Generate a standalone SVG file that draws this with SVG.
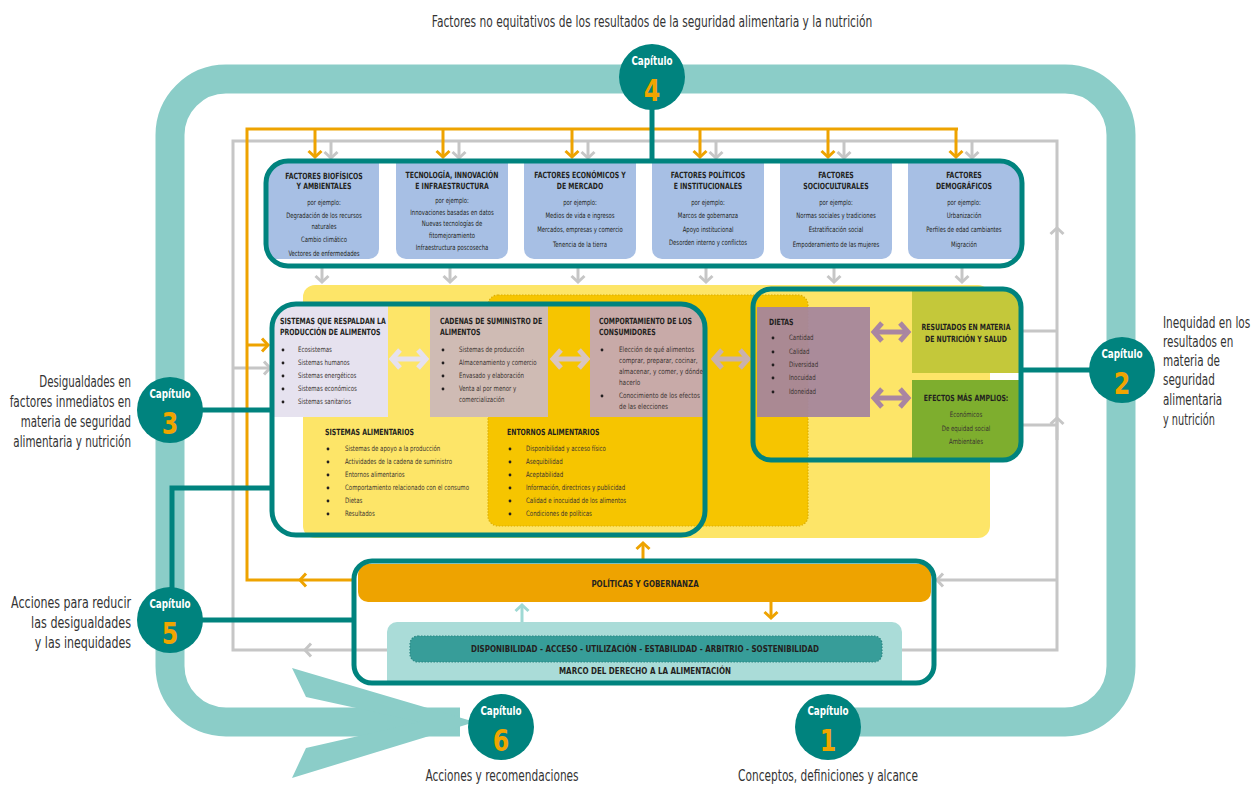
<svg xmlns="http://www.w3.org/2000/svg" width="1253" height="785" viewBox="0 0 1253 785">
<defs>
<style>
.t{font-family:"Liberation Sans Narrow","DejaVu Sans Condensed","Liberation Sans",sans-serif;fill:#231f20}
.lbl{font-size:15.5px;fill:#333}
.ft{font-size:8.6px;font-weight:bold;text-anchor:middle}
.fb{font-size:7.4px;text-anchor:middle}
.pt{font-size:8.6px;font-weight:bold}
.pb{font-size:7.4px;fill:#3a3330}
.cap{font-size:11.5px;font-weight:bold;fill:#fff;text-anchor:middle}
.num{font-size:31px;font-weight:bold;fill:#f0a500;text-anchor:middle}
.gl{stroke:#c6c6c6;stroke-width:3;fill:none}
.ol{stroke:#eea300;stroke-width:3;fill:none}
.tl{stroke:#00837e;stroke-width:5;fill:none}
.circ{fill:#00837e}
.bul{fill:#231f20}
</style>
<marker id="aO" viewBox="-10 -10 20 20" markerWidth="20" markerHeight="20" markerUnits="userSpaceOnUse" orient="auto"><path d="M-6,-6.5 L0,0 L-6,6.5" fill="none" stroke="#eea300" stroke-width="3"/></marker>
<marker id="aG" viewBox="-10 -10 20 20" markerWidth="20" markerHeight="20" markerUnits="userSpaceOnUse" orient="auto"><path d="M-6,-6.5 L0,0 L-6,6.5" fill="none" stroke="#c6c6c6" stroke-width="3"/></marker>
<marker id="aT" viewBox="-10 -10 20 20" markerWidth="20" markerHeight="20" markerUnits="userSpaceOnUse" orient="auto"><path d="M-6,-6.5 L0,0 L-6,6.5" fill="none" stroke="#9fd9d4" stroke-width="3"/></marker>
<marker id="dL" viewBox="-14 -14 28 28" markerWidth="28" markerHeight="28" markerUnits="userSpaceOnUse" orient="auto-start-reverse"><path d="M-8,-9 L0,0 L-8,9" fill="none" stroke="#e6e1ee" stroke-width="5"/></marker>
<marker id="dC" viewBox="-14 -14 28 28" markerWidth="28" markerHeight="28" markerUnits="userSpaceOnUse" orient="auto-start-reverse"><path d="M-8,-9 L0,0 L-8,9" fill="none" stroke="#d9c5c0" stroke-width="5"/></marker>
<marker id="dD" viewBox="-14 -14 28 28" markerWidth="28" markerHeight="28" markerUnits="userSpaceOnUse" orient="auto-start-reverse"><path d="M-8,-9 L0,0 L-8,9" fill="none" stroke="#c9b1ae" stroke-width="5"/></marker>
<marker id="dP" viewBox="-14 -14 28 28" markerWidth="28" markerHeight="28" markerUnits="userSpaceOnUse" orient="auto-start-reverse"><path d="M-8,-9 L0,0 L-8,9" fill="none" stroke="#a985a1" stroke-width="5"/></marker>
<clipPath id="cF"><rect x="266" y="161" width="756" height="105" rx="22"/></clipPath>
<clipPath id="c1"><rect x="272" y="304" width="433" height="231" rx="24"/></clipPath>
<clipPath id="c2"><rect x="753" y="289" width="268" height="171" rx="18"/></clipPath>
</defs>
<rect width="1253" height="785" fill="#fff"/>

<g id="loop">
<path d="M828,722 L1065,722 A56,56 0 0 0 1121,666 L1121,135 A56,56 0 0 0 1065,79 L226,79 A56,56 0 0 0 170,135 L170,666 A56,56 0 0 0 226,722 L460,722" fill="none" stroke="#8bcdc8" stroke-width="29"/>
<polygon points="292,668 475,722 292,778 306,748 420,722 306,697" fill="#8bcdc8"/>
</g>

<text class="t lbl" x="0" y="27" text-anchor="middle" transform="matrix(0.74,0,0,1,652,0)" textLength="595" lengthAdjust="spacingAndGlyphs">Factores no equitativos de los resultados de la seguridad alimentaria y la nutrición</text>

<g id="bg">
<rect x="303" y="285" width="687" height="253" rx="12" fill="#fde568"/>
<rect x="488" y="295" width="320" height="231" rx="10" fill="#f6c500" stroke="#dcae00" stroke-width="1.2" stroke-dasharray="1.5 1.5"/>
</g>

<g id="connectors">
<path class="gl" d="M305,650 H233 V141 H1057 V650 H890"/>
<path class="gl" d="M890,650 H882" marker-end="url(#aG)"/>
<path class="gl" d="M1057,580 H937" marker-end="url(#aG)"/>
<path class="gl" d="M410,650 H305" marker-end="url(#aG)"/>
<path class="gl" d="M1057,250 V228" marker-end="url(#aG)"/>
<path class="gl" d="M1057,440 V418" marker-end="url(#aG)"/>
<path class="gl" d="M1021,331 H1057"/>
<path class="gl" d="M1021,425 H1057"/>
<path class="gl" d="M233,368 H270" marker-end="url(#aG)"/>
<path class="gl" d="M331,141 V158" marker-end="url(#aG)"/>
<path class="gl" d="M459,141 V158" marker-end="url(#aG)"/>
<path class="gl" d="M588,141 V158" marker-end="url(#aG)"/>
<path class="gl" d="M716,141 V158" marker-end="url(#aG)"/>
<path class="gl" d="M844,141 V158" marker-end="url(#aG)"/>
<path class="gl" d="M972,141 V158" marker-end="url(#aG)"/>
<path class="gl" d="M322,268 V282" marker-end="url(#aG)"/>
<path class="gl" d="M450,268 V282" marker-end="url(#aG)"/>
<path class="gl" d="M578,268 V282" marker-end="url(#aG)"/>
<path class="gl" d="M706,268 V282" marker-end="url(#aG)"/>
<path class="gl" d="M834,268 V282" marker-end="url(#aG)"/>
<path class="gl" d="M962,268 V282" marker-end="url(#aG)"/>
<path class="ol" d="M356,580 H300" marker-end="url(#aO)"/>
<path class="ol" d="M300,580 H247 V129 H958"/>
<path class="ol" d="M247,345 H268" marker-end="url(#aO)"/>
<path class="ol" d="M315,129 V157" marker-end="url(#aO)"/>
<path class="ol" d="M443,129 V157" marker-end="url(#aO)"/>
<path class="ol" d="M572,129 V157" marker-end="url(#aO)"/>
<path class="ol" d="M700,129 V157" marker-end="url(#aO)"/>
<path class="ol" d="M828,129 V157" marker-end="url(#aO)"/>
<path class="ol" d="M956,129 V157" marker-end="url(#aO)"/>
<path class="ol" d="M643,560 V543" marker-end="url(#aO)"/>
<path class="ol" d="M771,602 V618" marker-end="url(#aO)"/>
<path d="M522,622 V605" fill="none" stroke="#9fd9d4" stroke-width="3" marker-end="url(#aT)"/>
<path class="tl" d="M652,108 V161"/>
<path class="tl" d="M200,410 H272"/>
<path class="tl" d="M200,620 H354"/>
<path class="tl" d="M172,590 V488 H272"/>
<path class="tl" d="M1021,370 H1090"/>
<path d="M392,359 H426" stroke="#e6e1ee" stroke-width="5" marker-start="url(#dL)" marker-end="url(#dL)"/>
<path d="M553,359 H587" stroke="#d9c5c0" stroke-width="5" marker-start="url(#dC)" marker-end="url(#dC)"/>
<path d="M714,359 H748" stroke="#c9b1ae" stroke-width="5" marker-start="url(#dD)" marker-end="url(#dD)"/>
<path d="M874,332 H908" stroke="#a985a1" stroke-width="5" marker-start="url(#dP)" marker-end="url(#dP)"/>
<path d="M874,398 H908" stroke="#a985a1" stroke-width="5" marker-start="url(#dP)" marker-end="url(#dP)"/>
</g>

<g id="factores">
<g clip-path="url(#cF)" fill="#a7bfe4">
<path d="M250,150 H379 V249 A10,10 0 0 1 369,259 H260 Z"/>
<path d="M396,150 H508 V249 A10,10 0 0 1 498,259 H406 A10,10 0 0 1 396,249 Z"/>
<path d="M524,150 H636 V249 A10,10 0 0 1 626,259 H534 A10,10 0 0 1 524,249 Z"/>
<path d="M652,150 H764 V249 A10,10 0 0 1 754,259 H662 A10,10 0 0 1 652,249 Z"/>
<path d="M780,150 H892 V249 A10,10 0 0 1 882,259 H790 A10,10 0 0 1 780,249 Z"/>
<path d="M908,150 H1030 V259 H918 A10,10 0 0 1 908,249 Z"/>
</g>
<rect x="266" y="161" width="756" height="105" rx="22" class="tl"/>
</g>
<g id="f1">
<text class="t ft" x="0" y="179" transform="matrix(0.8,0,0,1,324,0)">FACTORES BIOFÍSICOS</text>
<text class="t ft" x="0" y="189" transform="matrix(0.8,0,0,1,324,0)">Y AMBIENTALES</text>
<text class="t fb" x="0" y="205" transform="matrix(0.8,0,0,1,324,0)">por ejemplo:</text>
<text class="t fb" x="0" y="218" transform="matrix(0.8,0,0,1,324,0)">Degradación de los recursos</text>
<text class="t fb" x="0" y="229" transform="matrix(0.8,0,0,1,324,0)">naturales</text>
<text class="t fb" x="0" y="242" transform="matrix(0.8,0,0,1,324,0)">Cambio climático</text>
<text class="t fb" x="0" y="256" transform="matrix(0.8,0,0,1,324,0)">Vectores de enfermedades</text>
</g>
<g id="f2">
<text class="t ft" x="0" y="178" transform="matrix(0.8,0,0,1,452,0)">TECNOLOGÍA, INNOVACIÓN</text>
<text class="t ft" x="0" y="189" transform="matrix(0.8,0,0,1,452,0)">E INFRAESTRUCTURA</text>
<text class="t fb" x="0" y="203" transform="matrix(0.8,0,0,1,452,0)">por ejemplo:</text>
<text class="t fb" x="0" y="215" transform="matrix(0.8,0,0,1,452,0)">Innovaciones basadas en datos</text>
<text class="t fb" x="0" y="226" transform="matrix(0.8,0,0,1,452,0)">Nuevas tecnologías de</text>
<text class="t fb" x="0" y="238" transform="matrix(0.8,0,0,1,452,0)">fitomejoramiento</text>
<text class="t fb" x="0" y="250" transform="matrix(0.8,0,0,1,452,0)">Infraestructura poscosecha</text>
</g>
<g id="f3">
<text class="t ft" x="0" y="178" transform="matrix(0.8,0,0,1,580,0)">FACTORES ECONÓMICOS Y</text>
<text class="t ft" x="0" y="189" transform="matrix(0.8,0,0,1,580,0)">DE MERCADO</text>
<text class="t fb" x="0" y="205" transform="matrix(0.8,0,0,1,580,0)">por ejemplo:</text>
<text class="t fb" x="0" y="218" transform="matrix(0.8,0,0,1,580,0)">Medios de vida  e ingresos</text>
<text class="t fb" x="0" y="232" transform="matrix(0.8,0,0,1,580,0)">Mercados, empresas y comercio</text>
<text class="t fb" x="0" y="247" transform="matrix(0.8,0,0,1,580,0)">Tenencia de la tierra</text>
</g>
<g id="f4">
<text class="t ft" x="0" y="178" transform="matrix(0.8,0,0,1,708,0)">FACTORES POLÍTICOS</text>
<text class="t ft" x="0" y="189" transform="matrix(0.8,0,0,1,708,0)">E INSTITUCIONALES</text>
<text class="t fb" x="0" y="205" transform="matrix(0.8,0,0,1,708,0)">por ejemplo:</text>
<text class="t fb" x="0" y="218" transform="matrix(0.8,0,0,1,708,0)">Marcos de gobernanza</text>
<text class="t fb" x="0" y="232" transform="matrix(0.8,0,0,1,708,0)">Apoyo institucional</text>
<text class="t fb" x="0" y="245" transform="matrix(0.8,0,0,1,708,0)">Desorden interno y conflictos</text>
</g>
<g id="f5">
<text class="t ft" x="0" y="178" transform="matrix(0.8,0,0,1,836,0)">FACTORES</text>
<text class="t ft" x="0" y="189" transform="matrix(0.8,0,0,1,836,0)">SOCIOCULTURALES</text>
<text class="t fb" x="0" y="205" transform="matrix(0.8,0,0,1,836,0)">por ejemplo:</text>
<text class="t fb" x="0" y="218" transform="matrix(0.8,0,0,1,836,0)">Normas sociales y tradiciones</text>
<text class="t fb" x="0" y="232" transform="matrix(0.8,0,0,1,836,0)">Estratificación social</text>
<text class="t fb" x="0" y="247" transform="matrix(0.8,0,0,1,836,0)">Empoderamiento de las mujeres</text>
</g>
<g id="f6">
<text class="t ft" x="0" y="178" transform="matrix(0.8,0,0,1,964,0)">FACTORES</text>
<text class="t ft" x="0" y="189" transform="matrix(0.8,0,0,1,964,0)">DEMOGRÁFICOS</text>
<text class="t fb" x="0" y="205" transform="matrix(0.8,0,0,1,964,0)">por ejemplo:</text>
<text class="t fb" x="0" y="218" transform="matrix(0.8,0,0,1,964,0)">Urbanización</text>
<text class="t fb" x="0" y="232" transform="matrix(0.8,0,0,1,964,0)">Perfiles de edad cambiantes</text>
<text class="t fb" x="0" y="247" transform="matrix(0.8,0,0,1,964,0)">Migración</text>
</g>

<g id="sistemas">
<g clip-path="url(#c1)">
<rect x="270" y="300" width="118" height="117" fill="#e6e2ef"/>
<rect x="430" y="300" width="118" height="117" fill="#cfbbb4"/>
<rect x="590" y="300" width="120" height="117" fill="#c8aaa8"/>
</g>
<rect x="272" y="304" width="433" height="231" rx="24" class="tl"/>
</g>
<g id="respaldan">
<text class="t pt" x="0" y="324" transform="matrix(0.8,0,0,1,280,0)">SISTEMAS QUE RESPALDAN LA</text>
<text class="t pt" x="0" y="335" transform="matrix(0.8,0,0,1,280,0)">PRODUCCIÓN DE ALIMENTOS</text>
<g class="bul"><circle cx="283" cy="350" r="1.4"/><circle cx="283" cy="363" r="1.4"/><circle cx="283" cy="376" r="1.4"/><circle cx="283" cy="389" r="1.4"/><circle cx="283" cy="402" r="1.4"/></g>
<text class="t pb" x="0" y="352" transform="matrix(0.82,0,0,1,298,0)">Ecosistemas</text>
<text class="t pb" x="0" y="365" transform="matrix(0.82,0,0,1,298,0)">Sistemas humanos</text>
<text class="t pb" x="0" y="378" transform="matrix(0.82,0,0,1,298,0)">Sistemas energéticos</text>
<text class="t pb" x="0" y="391" transform="matrix(0.82,0,0,1,298,0)">Sistemas económicos</text>
<text class="t pb" x="0" y="404" transform="matrix(0.82,0,0,1,298,0)">Sistemas sanitarios</text>
</g>
<g id="cadenas">
<text class="t pt" x="0" y="324" transform="matrix(0.8,0,0,1,440,0)">CADENAS DE SUMINISTRO DE</text>
<text class="t pt" x="0" y="335" transform="matrix(0.8,0,0,1,440,0)">ALIMENTOS</text>
<g class="bul"><circle cx="443" cy="350" r="1.4"/><circle cx="443" cy="363" r="1.4"/><circle cx="443" cy="376" r="1.4"/><circle cx="443" cy="389" r="1.4"/></g>
<text class="t pb" x="0" y="352" transform="matrix(0.82,0,0,1,459,0)">Sistemas de producción</text>
<text class="t pb" x="0" y="365" transform="matrix(0.82,0,0,1,459,0)">Almacenamiento y comercio</text>
<text class="t pb" x="0" y="378" transform="matrix(0.82,0,0,1,459,0)">Envasado y elaboración</text>
<text class="t pb" x="0" y="391" transform="matrix(0.82,0,0,1,459,0)">Venta al por menor y</text>
<text class="t pb" x="0" y="402" transform="matrix(0.82,0,0,1,459,0)">comercialización</text>
</g>
<g id="comportamiento">
<text class="t pt" x="0" y="324" transform="matrix(0.8,0,0,1,599,0)">COMPORTAMIENTO DE LOS</text>
<text class="t pt" x="0" y="335" transform="matrix(0.8,0,0,1,599,0)">CONSUMIDORES</text>
<g class="bul"><circle cx="602" cy="350" r="1.4"/><circle cx="602" cy="396" r="1.4"/></g>
<text class="t pb" x="0" y="352" transform="matrix(0.86,0,0,1,619,0)">Elección de qué alimentos</text>
<text class="t pb" x="0" y="363" transform="matrix(0.86,0,0,1,619,0)">comprar, preparar, cocinar,</text>
<text class="t pb" x="0" y="374" transform="matrix(0.86,0,0,1,619,0)">almacenar, y  comer, y dónde</text>
<text class="t pb" x="0" y="385" transform="matrix(0.86,0,0,1,619,0)">hacerlo</text>
<text class="t pb" x="0" y="398" transform="matrix(0.86,0,0,1,619,0)">Conocimiento de los efectos</text>
<text class="t pb" x="0" y="409" transform="matrix(0.86,0,0,1,619,0)">de las elecciones</text>
</g>
<g id="sistalim">
<text class="t pt" x="0" y="435" transform="matrix(0.8,0,0,1,325,0)">SISTEMAS ALIMENTARIOS</text>
<g class="bul"><circle cx="328" cy="449" r="1.4"/><circle cx="328" cy="462" r="1.4"/><circle cx="328" cy="475" r="1.4"/><circle cx="328" cy="488" r="1.4"/><circle cx="328" cy="501" r="1.4"/><circle cx="328" cy="514" r="1.4"/></g>
<text class="t pb" x="0" y="451" transform="matrix(0.82,0,0,1,345,0)">Sistemas de apoyo a la producción</text>
<text class="t pb" x="0" y="464" transform="matrix(0.82,0,0,1,345,0)">Actividades de la cadena de suministro</text>
<text class="t pb" x="0" y="477" transform="matrix(0.82,0,0,1,345,0)">Entornos alimentarios</text>
<text class="t pb" x="0" y="490" transform="matrix(0.82,0,0,1,345,0)">Comportamiento relacionado con el consumo</text>
<text class="t pb" x="0" y="503" transform="matrix(0.82,0,0,1,345,0)">Dietas</text>
<text class="t pb" x="0" y="516" transform="matrix(0.82,0,0,1,345,0)">Resultados</text>
</g>
<g id="entornos">
<text class="t pt" x="0" y="435" transform="matrix(0.8,0,0,1,507,0)">ENTORNOS ALIMENTARIOS</text>
<g class="bul"><circle cx="510" cy="449" r="1.4"/><circle cx="510" cy="462" r="1.4"/><circle cx="510" cy="475" r="1.4"/><circle cx="510" cy="488" r="1.4"/><circle cx="510" cy="501" r="1.4"/><circle cx="510" cy="514" r="1.4"/></g>
<text class="t pb" x="0" y="451" transform="matrix(0.82,0,0,1,526,0)">Disponibilidad y acceso físico</text>
<text class="t pb" x="0" y="464" transform="matrix(0.82,0,0,1,526,0)">Asequibilidad</text>
<text class="t pb" x="0" y="477" transform="matrix(0.82,0,0,1,526,0)">Aceptabilidad</text>
<text class="t pb" x="0" y="490" transform="matrix(0.82,0,0,1,526,0)">Información, directrices y publicidad</text>
<text class="t pb" x="0" y="503" transform="matrix(0.82,0,0,1,526,0)">Calidad e inocuidad de los alimentos</text>
<text class="t pb" x="0" y="516" transform="matrix(0.82,0,0,1,526,0)">Condiciones de políticas</text>
</g>

<g id="resultados">
<g clip-path="url(#c2)">
<rect x="757" y="307" width="113" height="110" fill="#a4849e" opacity="0.93"/>
<rect x="912" y="285" width="115" height="88" fill="#c4c83a"/>
<rect x="912" y="380" width="115" height="85" fill="#7eae2e"/>
</g>
<rect x="753" y="289" width="268" height="171" rx="18" class="tl"/>
<text class="t pt" x="0" y="325" transform="matrix(0.8,0,0,1,769,0)">DIETAS</text>
<g class="bul"><circle cx="773" cy="338" r="1.4"/><circle cx="773" cy="352" r="1.4"/><circle cx="773" cy="365" r="1.4"/><circle cx="773" cy="378" r="1.4"/><circle cx="773" cy="392" r="1.4"/></g>
<text class="t pb" x="0" y="340" transform="matrix(0.82,0,0,1,789,0)">Cantidad</text>
<text class="t pb" x="0" y="354" transform="matrix(0.82,0,0,1,789,0)">Calidad</text>
<text class="t pb" x="0" y="367" transform="matrix(0.82,0,0,1,789,0)">Diversidad</text>
<text class="t pb" x="0" y="380" transform="matrix(0.82,0,0,1,789,0)">Inocuidad</text>
<text class="t pb" x="0" y="394" transform="matrix(0.82,0,0,1,789,0)">Idoneidad</text>
<text class="t pt" x="0" y="330" text-anchor="middle" transform="matrix(0.8,0,0,1,966,0)">RESULTADOS EN MATERIA</text>
<text class="t pt" x="0" y="342" text-anchor="middle" transform="matrix(0.8,0,0,1,966,0)">DE NUTRICIÓN  Y SALUD</text>
<text class="t pt" x="0" y="401" text-anchor="middle" transform="matrix(0.8,0,0,1,966,0)">EFECTOS MÁS AMPLIOS:</text>
<text class="t pb" x="0" y="417" text-anchor="middle" transform="matrix(0.82,0,0,1,966,0)">Económicos</text>
<text class="t pb" x="0" y="431" text-anchor="middle" transform="matrix(0.82,0,0,1,966,0)">De equidad social</text>
<text class="t pb" x="0" y="444" text-anchor="middle" transform="matrix(0.82,0,0,1,966,0)">Ambientales</text>
</g>

<g id="politicas">
<rect x="358" y="564" width="573" height="38" rx="10" fill="#eea300"/>
<path d="M387,683 V632 A10,10 0 0 1 397,622 H892 A10,10 0 0 1 902,632 V683 Z" fill="#aadcd8"/>
<rect x="410" y="636" width="472" height="26" rx="8" fill="#379d99" stroke="#2b8985" stroke-width="1.2" stroke-dasharray="1.5 1.5"/>
<rect x="354" y="561" width="580" height="122" rx="18" class="tl"/>
<text class="t" x="0" y="587" text-anchor="middle" font-size="9.4" font-weight="bold" transform="matrix(0.8,0,0,1,645,0)" textLength="134" lengthAdjust="spacingAndGlyphs">POLÍTICAS Y GOBERNANZA</text>
<text class="t" x="0" y="652" text-anchor="middle" font-size="9" font-weight="bold" transform="matrix(0.8,0,0,1,645,0)" textLength="435" lengthAdjust="spacingAndGlyphs">DISPONIBILIDAD - ACCESO - UTILIZACIÓN - ESTABILIDAD - ARBITRIO - SOSTENIBILIDAD</text>
<text class="t" x="0" y="674" text-anchor="middle" font-size="9" font-weight="bold" transform="matrix(0.8,0,0,1,645,0)" textLength="215" lengthAdjust="spacingAndGlyphs">MARCO DEL DERECHO A LA ALIMENTACIÓN</text>
</g>

<g id="cap4"><circle class="circ" cx="652" cy="77" r="33"/><text class="t cap" x="0" y="65" transform="matrix(0.85,0,0,1,652,0)">Capítulo</text><text class="t num" x="0" y="101" transform="matrix(0.85,0,0,1,652,0)">4</text></g>
<g id="cap2"><circle class="circ" cx="1122" cy="370" r="33"/><text class="t cap" x="0" y="358" transform="matrix(0.85,0,0,1,1122,0)">Capítulo</text><text class="t num" x="0" y="394" transform="matrix(0.85,0,0,1,1122,0)">2</text></g>
<g id="cap3"><circle class="circ" cx="170" cy="410" r="33"/><text class="t cap" x="0" y="398" transform="matrix(0.85,0,0,1,170,0)">Capítulo</text><text class="t num" x="0" y="434" transform="matrix(0.85,0,0,1,170,0)">3</text></g>
<g id="cap5"><circle class="circ" cx="170" cy="620" r="33"/><text class="t cap" x="0" y="608" transform="matrix(0.85,0,0,1,170,0)">Capítulo</text><text class="t num" x="0" y="644" transform="matrix(0.85,0,0,1,170,0)">5</text></g>
<g id="cap6"><circle class="circ" cx="501" cy="727" r="33"/><text class="t cap" x="0" y="715" transform="matrix(0.85,0,0,1,501,0)">Capítulo</text><text class="t num" x="0" y="751" transform="matrix(0.85,0,0,1,501,0)">6</text></g>
<g id="cap1"><circle class="circ" cx="828" cy="727" r="33"/><text class="t cap" x="0" y="715" transform="matrix(0.85,0,0,1,828,0)">Capítulo</text><text class="t num" x="0" y="751" transform="matrix(0.85,0,0,1,828,0)">1</text></g>

<g id="labels">
<text class="t lbl" x="0" y="387" text-anchor="end" transform="matrix(0.74,0,0,1,131,0)" textLength="124" lengthAdjust="spacingAndGlyphs">Desigualdades en</text>
<text class="t lbl" x="0" y="407" text-anchor="end" transform="matrix(0.74,0,0,1,131,0)" textLength="164" lengthAdjust="spacingAndGlyphs">factores inmediatos en</text>
<text class="t lbl" x="0" y="427" text-anchor="end" transform="matrix(0.74,0,0,1,131,0)" textLength="149" lengthAdjust="spacingAndGlyphs">materia de seguridad</text>
<text class="t lbl" x="0" y="447" text-anchor="end" transform="matrix(0.74,0,0,1,131,0)" textLength="159" lengthAdjust="spacingAndGlyphs">alimentaria y nutrición</text>
<text class="t lbl" x="0" y="608" text-anchor="end" transform="matrix(0.74,0,0,1,131,0)" textLength="162" lengthAdjust="spacingAndGlyphs">Acciones para reducir</text>
<text class="t lbl" x="0" y="628" text-anchor="end" transform="matrix(0.74,0,0,1,131,0)" textLength="135" lengthAdjust="spacingAndGlyphs">las desigualdades</text>
<text class="t lbl" x="0" y="648" text-anchor="end" transform="matrix(0.74,0,0,1,131,0)" textLength="130" lengthAdjust="spacingAndGlyphs">y las inequidades</text>
<text class="t lbl" x="0" y="328" transform="matrix(0.74,0,0,1,1163,0)" textLength="118" lengthAdjust="spacingAndGlyphs">Inequidad en los</text>
<text class="t lbl" x="0" y="347" transform="matrix(0.74,0,0,1,1163,0)" textLength="95" lengthAdjust="spacingAndGlyphs">resultados en</text>
<text class="t lbl" x="0" y="366" transform="matrix(0.74,0,0,1,1163,0)" textLength="77" lengthAdjust="spacingAndGlyphs">materia de</text>
<text class="t lbl" x="0" y="385" transform="matrix(0.74,0,0,1,1163,0)" textLength="70" lengthAdjust="spacingAndGlyphs">seguridad</text>
<text class="t lbl" x="0" y="405" transform="matrix(0.74,0,0,1,1163,0)" textLength="80" lengthAdjust="spacingAndGlyphs">alimentaria</text>
<text class="t lbl" x="0" y="425" transform="matrix(0.74,0,0,1,1163,0)" textLength="70" lengthAdjust="spacingAndGlyphs">y nutrición</text>
<text class="t lbl" x="0" y="781" text-anchor="middle" transform="matrix(0.74,0,0,1,502,0)" textLength="207" lengthAdjust="spacingAndGlyphs">Acciones y recomendaciones</text>
<text class="t lbl" x="0" y="781" text-anchor="middle" transform="matrix(0.74,0,0,1,828,0)" textLength="243" lengthAdjust="spacingAndGlyphs">Conceptos, definiciones y alcance</text>
</g>
</svg>
